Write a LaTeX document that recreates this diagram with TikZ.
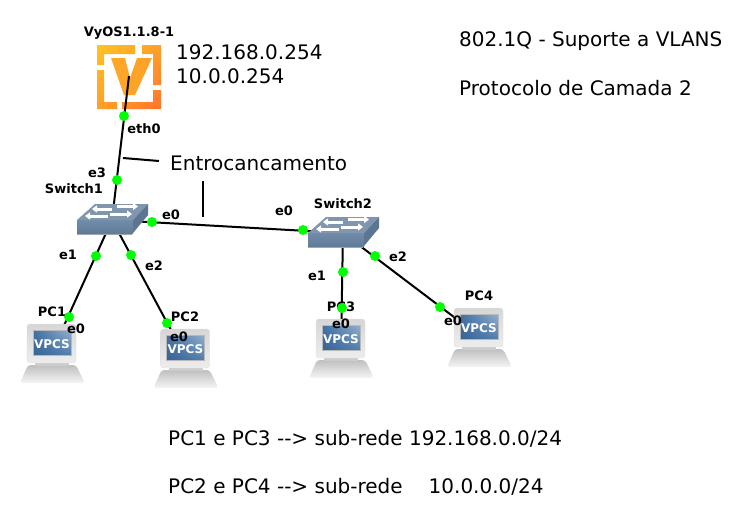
\documentclass[tikz,border=0pt]{standalone}
\usepackage{fontspec}
\setmainfont{DejaVu Sans}
\usetikzlibrary{backgrounds,arrows.meta,shadings}
\definecolor{dotgreen}{RGB}{0,255,0}
\definecolor{swfront}{RGB}{112,140,170}
\definecolor{swfrontb}{RGB}{96,124,152}
\definecolor{swtop}{RGB}{128,150,175}
\definecolor{swside}{RGB}{92,118,146}
\definecolor{vpcsblue}{RGB}{62,112,165}
\definecolor{vyellow}{RGB}{255,195,35}
\definecolor{vorange}{RGB}{255,160,40}
\definecolor{vred}{RGB}{255,115,45}
\tikzset{
  x=1pt,y=-1pt,
  big/.style={font=\fontsize{20}{24}\selectfont,inner sep=0pt},
  bigl/.style={big,anchor=west},
  tag/.style={font=\fontsize{13}{15}\selectfont\bfseries,inner sep=0pt},
  dot/.style={circle,fill=dotgreen,inner sep=0pt,minimum size=10pt},
  link/.style={draw=black,line width=2pt},
  icon/.style={inner sep=0pt,minimum size=2pt},
  swarrow/.style={draw=white,line width=3pt,-{Triangle[width=7pt,length=5pt]}},
  pics/pcicon/.style={code={
    \shade[top color=gray!50,bottom color=gray!8,rounded corners=3pt]
      (-32,31) -- (-24,13) -- (24,13) -- (33,31) -- cycle;
    \fill[gray!40] (-17,10) rectangle (17,14);
    \shade[top color=gray!32,bottom color=gray!14,rounded corners=3pt,draw=gray!25]
      (-25,-28) rectangle (24,11);
    \shade[lower left=vpcsblue!90!black,upper left=vpcsblue,lower right=vpcsblue!90,upper right=vpcsblue!55!white,draw=gray!55]
      (-19,-22) rectangle (19,3);
    \node[font=\fontsize{12}{14}\selectfont\bfseries,text=white,inner sep=0pt] at (0,-8) {VPCS};
  }},
  pics/swicon/.style={code={
    \fill[gray!70] (-35,2) rectangle (20,15);
    \shade[top color=swfront,bottom color=swfrontb] (-35,0) rectangle (21,13);
    \fill[swtop] (-35,0) -- (-17,-16) -- (36,-16) -- (21,0) -- cycle;
    \fill[swside] (21,0) -- (36,-16) -- (36,-5) -- (21,13) -- cycle;
    \draw[swarrow] (0,-11) -- (-20,-11);
    \draw[swarrow] (5,-13.5) -- (26,-13.5);
    \draw[swarrow] (-4,-4) -- (-27,-4);
    \draw[swarrow] (-2,-6) -- (20,-6);
  }},
  pics/vyicon/.style={code={
    \shade[upper left=vyellow,upper right=vorange,lower left=vorange,lower right=vred]
      (-32,-31) -- (6,-31) -- (6,-22) -- (-25,-22) -- (-25,-11) -- (-32,-11) -- cycle
      (13,-31) -- (32,-31) -- (32,9) -- (24,9) -- (24,-22) -- (13,-22) -- cycle
      (32,14) -- (32,33) -- (-7,33) -- (-7,26) -- (24,26) -- (24,14) -- cycle
      (-32,-6) -- (-25,-6) -- (-25,26) -- (-12,26) -- (-12,33) -- (-32,33) -- cycle;
    \shade[left color=vorange!80!vyellow,right color=vorange]
      (-18,-18) -- (-4,-18) -- (1,2) -- (8,-18) -- (23,-18) -- (6,19) -- (-5,19) -- cycle;
  }}
}
\begin{document}
\begin{tikzpicture}
\useasboundingbox (0,0) rectangle (746,522);
% device anchors
\node[icon] (r1) at (129,76) {};
\node[icon] (sw1) at (112,220) {};
\node[icon] (sw2) at (343,233) {};
\node[icon] (pc1) at (52,352) {};
\node[icon] (pc2) at (185.5,357) {};
\node[icon] (pc3) at (341,347) {};
\node[icon] (pc4) at (479,336) {};
\begin{scope}[on background layer]
  \pic at (r1) {vyicon};
  \draw[link] (r1.center) -- (sw1.center);
  \draw[link] (sw1.center) -- (sw2.center);
  \draw[link] (sw1.center) -- (pc1.center);
  \draw[link] (sw1.center) -- (pc2.center);
  \draw[link] (sw2.center) -- (pc3.center);
  \draw[link] (sw2.center) -- (pc4.center);
\end{scope}
\pic at (sw1) {swicon};
\pic at (sw2) {swicon};
\pic at (pc1) {pcicon};
\pic at (pc2) {pcicon};
\pic at (pc3) {pcicon};
\pic at (pc4) {pcicon};
% free text
\node[bigl] (ip1) at (176,52) {192.168.0.254};
\node[bigl] (ip2) at (176,76) {10.0.0.254};
\node[bigl] (t1) at (459,41.5) {802.1Q - Suporte a VLANS};
\node[bigl] (t2) at (459,88) {Protocolo de Camada 2};
\node[bigl] (trunk) at (170,163) {Entrocancamento};
\node[bigl] (n1) at (168,439) {PC1 e PC3 -{}-> sub-rede 192.168.0.0/24};
\node[bigl] (n2) at (168,487) {PC2 e PC4 -{}-> sub-rede\hspace{26pt}10.0.0.0/24};
\coordinate (ta) at (123,158);
\coordinate (tb) at (159,161);
\coordinate (tc) at (203,181);
\coordinate (td) at (203,217);
\draw[link] (ta) -- (tb);
\draw[link] (tc) -- (td);
% small labels
\node[tag] (lvy) at (129,33) {VyOS1.1.8-1};
\node[tag] (leth) at (144,129) {eth0};
\node[tag] (le3) at (97,173) {e3};
\node[tag] (ls1) at (74,189) {Switch1};
\node[tag] (ls2) at (343,204) {Switch2};
\node[tag] (la) at (171,215) {e0};
\node[tag] (lb) at (284,211) {e0};
\node[tag] (lc) at (68,255) {e1};
\node[tag] (ld) at (154,266) {e2};
\node[tag] (le) at (317,276) {e1};
\node[tag] (lf) at (398,257) {e2};
\node[tag] (lp1) at (52,312) {PC1};
\node[tag] (lp2) at (185,317) {PC2};
\node[tag] (lp3) at (341,307) {PC3};
\node[tag] (lp4) at (479,296) {PC4};
\node[tag] (lg) at (76,329) {e0};
\node[tag] (lh) at (179,337) {e0};
\node[tag] (li) at (341,324) {e0};
\node[tag] (lj) at (453,321) {e0};
% port dots
\foreach \n/\p in {d1/{124,116},d2/{117,180},d3/{152,222},d4/{303,230},d5/{96,256},d6/{131,255},d7/{69,317},d8/{167,323},d9/{343,272},d10/{342,308},d11/{375,256},d12/{440,307}}
  \node[dot] (\n) at (\p) {};
\end{tikzpicture}
\end{document}
